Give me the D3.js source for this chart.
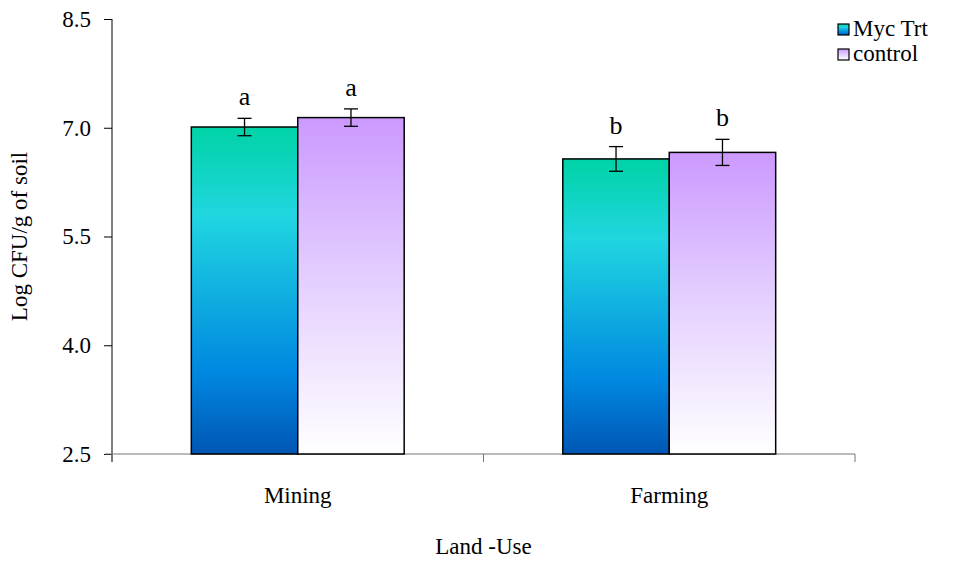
<!DOCTYPE html>
<meta charset="utf-8">
<style>
  body { margin: 0; background: #fff; }
  text { font-family: "Liberation Serif", "Times New Roman", serif; fill: #000; }
</style>
<svg width="963" height="562"></svg>
<script src="https://cdn.jsdelivr.net/npm/d3@7"></script>
<script>

    var categories = ["Mining", "Farming"];
    var seriesNames = ["Myc Trt", "control"];
    var mycTrt = [7.01, 6.57];
    var control = [7.14, 6.66];
    var mycErr = [0.12, 0.17];
    var controlErr = [0.12, 0.18];
    var letters = [["a", "a"], ["b", "b"]];
    var yTicks = [2.5, 4.0, 5.5, 7.0, 8.5];

    var svg = d3.select("svg"),
        margin = {top: 19, right: 108, bottom: 108, left: 112},
        width = +svg.attr("width") - margin.left - margin.right,
        height = +svg.attr("height") - margin.top - margin.bottom,
        g = svg.append("g").attr("transform", "translate(" + margin.left + "," + margin.top + ")");

    var fontSize = "23px";

    // gradients, one per series, stretched over each bar
    var defs = svg.append("defs");
    var gradStops = [
        [["0%", "#00d3a6"], ["27%", "#20d6e0"], ["75%", "#0088e0"], ["100%", "#0056b4"]],
        [["0%", "#cc99ff"], ["45%", "#e2ccff"], ["100%", "#ffffff"]]
    ];
    gradStops.forEach(function(stops, i) {
        var lg = defs.append("linearGradient")
            .attr("id", "grad" + i)
            .attr("x1", 0).attr("y1", 0).attr("x2", 0).attr("y2", 1);
        stops.forEach(function(s) {
            lg.append("stop").attr("offset", s[0]).attr("stop-color", s[1]);
        });
    });

    var data = categories.map(function(c, i) {
        return {
            cat: c,
            bars: [
                {s: 0, v: mycTrt[i], e: mycErr[i], l: letters[i][0]},
                {s: 1, v: control[i], e: controlErr[i], l: letters[i][1]}
            ]
        };
    });

    var x0 = d3.scaleBand()
        .domain(categories)
        .range([0, width])
        .paddingInner(0.427)
        .paddingOuter(0.2135);

    var x1 = d3.scaleBand()
        .domain([0, 1])
        .range([0, x0.bandwidth()]);

    var y = d3.scaleLinear()
        .domain([2.5, 8.5])
        .range([height, 0]);

    // axes
    var yAxis = g.append("g")
        .call(d3.axisLeft(y).tickValues(yTicks).tickFormat(d3.format(".1f")).tickSize(8).tickPadding(13));
    yAxis.select(".domain").attr("stroke", "#000").attr("d", "M0,0V" + (height + 8));
    yAxis.selectAll(".tick line").attr("stroke", "#000");
    yAxis.selectAll("text").style("font-size", fontSize).attr("font-family", null);

    var step = x0.step();
    var xAxisG = g.append("g").attr("transform", "translate(0," + height + ")");
    xAxisG.append("line")
        .attr("x1", -7).attr("x2", width)
        .attr("stroke", "#777").attr("stroke-width", 1);
    xAxisG.selectAll(".xt")
        .data(d3.range(categories.length + 1))
        .enter().append("line")
        .attr("x1", function(d) { return d * step; })
        .attr("x2", function(d) { return d * step; })
        .attr("y1", 0).attr("y2", 8)
        .attr("stroke", "#777");
    xAxisG.selectAll(".xl")
        .data(categories)
        .enter().append("text")
        .attr("x", function(d) { return x0(d) + x0.bandwidth() / 2; })
        .attr("y", 49)
        .attr("text-anchor", "middle")
        .style("font-size", fontSize)
        .text(function(d) { return d; });

    // bars
    var groups = g.selectAll(".grp")
        .data(data)
        .enter().append("g")
        .attr("transform", function(d) { return "translate(" + x0(d.cat) + ",0)"; });

    groups.selectAll("rect")
        .data(function(d) { return d.bars; })
        .enter().append("rect")
        .attr("x", function(d) { return x1(d.s); })
        .attr("y", function(d) { return y(d.v); })
        .attr("width", x1.bandwidth())
        .attr("height", function(d) { return height - y(d.v); })
        .attr("fill", function(d) { return "url(#grad" + d.s + ")"; })
        .attr("stroke", "#000")
        .attr("stroke-width", 1.5);

    // error bars
    var eb = groups.selectAll(".eb")
        .data(function(d) { return d.bars; })
        .enter().append("g")
        .attr("transform", function(d) { return "translate(" + (x1(d.s) + x1.bandwidth() / 2) + ",0)"; });
    eb.append("line")
        .attr("y1", function(d) { return y(d.v + d.e); })
        .attr("y2", function(d) { return y(d.v - d.e); })
        .attr("stroke", "#000").attr("stroke-width", 1.3);
    eb.append("line")
        .attr("x1", -7).attr("x2", 7)
        .attr("y1", function(d) { return y(d.v + d.e); })
        .attr("y2", function(d) { return y(d.v + d.e); })
        .attr("stroke", "#000").attr("stroke-width", 1.3);
    eb.append("line")
        .attr("x1", -7).attr("x2", 7)
        .attr("y1", function(d) { return y(d.v - d.e); })
        .attr("y2", function(d) { return y(d.v - d.e); })
        .attr("stroke", "#000").attr("stroke-width", 1.3);
    eb.append("text")
        .attr("y", function(d) { return y(d.v + d.e) - 13; })
        .attr("text-anchor", "middle")
        .style("font-size", "26px")
        .text(function(d) { return d.l; });

    // axis titles
    svg.append("text")
        .attr("transform", "translate(27," + (margin.top + height / 2) + ") rotate(-90)")
        .attr("text-anchor", "middle")
        .style("font-size", fontSize)
        .text("Log CFU/g of soil");

    svg.append("text")
        .attr("x", margin.left + width / 2)
        .attr("y", 554)
        .attr("text-anchor", "middle")
        .style("font-size", fontSize)
        .text("Land -Use");

    // legend
    var legend = svg.append("g").attr("transform", "translate(838,24)");
    var li = legend.selectAll(".li")
        .data(seriesNames)
        .enter().append("g")
        .attr("transform", function(d, i) { return "translate(0," + i * 25 + ")"; });
    li.append("rect")
        .attr("width", 11).attr("height", 11)
        .attr("fill", function(d, i) { return "url(#grad" + i + ")"; })
        .attr("stroke", "#000").attr("stroke-width", 1.2);
    li.append("text")
        .attr("x", 15).attr("y", 12)
        .style("font-size", fontSize)
        .text(function(d) { return d; });

</script>
